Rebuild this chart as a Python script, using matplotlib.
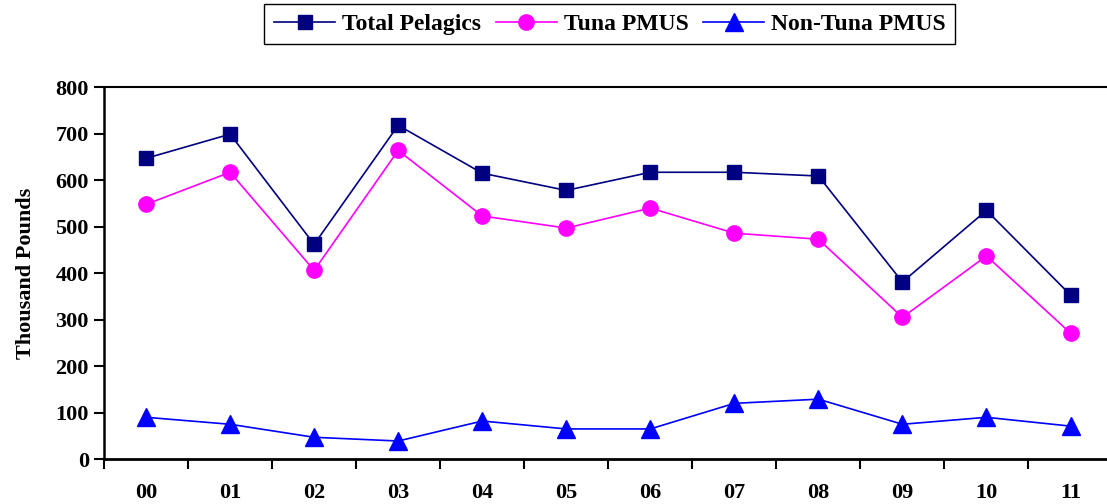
import matplotlib.pyplot as plt
import numpy as np

years = ['00', '01', '02', '03', '04', '05', '06', '07', '08', '09', '10', '11']
total_pelagics = [647, 699, 462, 718, 615, 578, 617, 617, 609, 381, 535, 353]
tuna_pmus = [548, 617, 406, 664, 523, 497, 540, 486, 473, 305, 437, 271]
non_tuna_pmus = [90, 75, 47, 39, 82, 65, 65, 120, 129, 75, 90, 71]

plt.rcParams['font.family'] = ['Liberation Serif', 'DejaVu Serif']
plt.rcParams['font.weight'] = 'bold'

fig = plt.figure(figsize=(11.07, 5.04), dpi=100)
ax = fig.add_axes([0.094, 0.089, 0.911, 0.738])

x = np.arange(len(years))
ax.plot(x, total_pelagics, color='#000080', marker='s', markersize=10.5, linewidth=1.2,
        label='Total Pelagics')
ax.plot(x, tuna_pmus, color='#FF00FF', marker='o', markersize=11, linewidth=1.2,
        label='Tuna PMUS')
ax.plot(x, non_tuna_pmus, color='#0000FF', marker='^', markersize=13, linewidth=1.2,
        label='Non-Tuna PMUS')

ax.set_xlim(-0.5, 11.5)
ax.set_ylim(0, 800)
ax.set_yticks(range(0, 801, 100))
ax.set_xticks(x)
ax.set_xticklabels(years, fontsize=16, fontweight='bold')
ax.set_xticks(np.arange(-0.5, 11.5, 1.0), minor=True)
ax.tick_params(axis='x', which='major', length=0, pad=17)
ax.tick_params(axis='x', which='minor', length=7, width=1.5, direction='out')
ax.tick_params(axis='y', length=7, width=1.5, labelsize=16, pad=4)
for lab in ax.get_yticklabels():
    lab.set_fontweight('bold')

ax.spines['right'].set_visible(False)
ax.spines['top'].set_linewidth(1.5)
ax.spines['left'].set_linewidth(1.8)
ax.spines['bottom'].set_linewidth(2)

ax.set_ylabel('Thousand Pounds', fontsize=16, fontweight='bold', labelpad=14)

fig.legend(loc='center', bbox_to_anchor=(0.551, 0.952), ncol=3, frameon=True,
           fancybox=False, edgecolor='black', framealpha=1,
           handlelength=2.6, columnspacing=0.6, handletextpad=0.3,
           borderpad=0.4, prop={'weight': 'bold', 'size': 17})

plt.savefig('out.png', dpi=100)
